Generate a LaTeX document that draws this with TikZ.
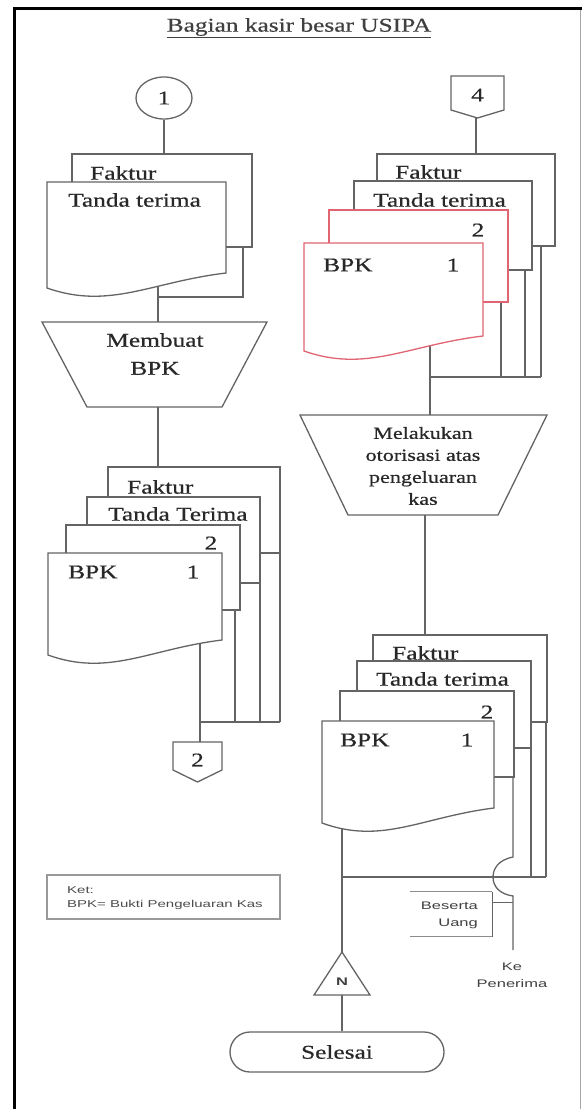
\documentclass[tikz,border=0pt]{standalone}
\usepackage{fontspec}
\setmainfont{Liberation Serif}
\newfontfamily\docfont{Liberation Serif}[FakeStretch=1.3, FakeBold=0.6]
\newfontfamily\notefont{Liberation Sans}[FakeStretch=1.5]
\usetikzlibrary{shapes.geometric}
\definecolor{ln}{RGB}{100,100,100}
\definecolor{tx}{RGB}{40,40,40}
\definecolor{rd}{RGB}{225,100,115}
\tikzset{
  flow/.style={draw=ln, line width=1.3pt},
  box/.style={draw=ln, line width=1.3pt, fill=white},
  redbox/.style={draw=rd, line width=1.3pt, fill=white},
  lbl/.style={font=\docfont\fontsize{19.5}{28}\selectfont, text=tx, inner sep=0pt},
  smalllbl/.style={font=\docfont\fontsize{17}{22}\selectfont, text=tx, inner sep=0pt, align=center},
  note/.style={font=\notefont\fontsize{10}{15}\selectfont, text=black!70, inner sep=0pt},
  notesm/.style={font=\notefont\fontsize{11}{17}\selectfont, text=black!75, inner sep=0pt},
}
\newcommand\docshape[5]{%
  \draw[#1] (#2,#3) -- (#4,#3) -- (#4,#5) .. controls ({#4-0.42*(#4-#2)},{#5+9}) and ({#4-0.65*(#4-#2)},{#5+37}) .. (#2,{#5+15}) -- cycle;}
\begin{document}
\begin{tikzpicture}[x=1pt,y=-1pt]
\useasboundingbox (0,0) rectangle (582,1109);
% frame
\draw[black!35, line width=1pt] (580.5,8) -- (580.5,1109);
\draw[black, line width=3pt] (14,1109) -- (14,8) -- (582,8);
% title
\node[lbl, text=black!75] (title) at (299,28) {\underline{Bagian kasir besar USIPA}};

% ---------- left column ----------
\node[ellipse, draw=ln, line width=1.3pt, minimum width=56pt, minimum height=42pt, inner sep=0pt, lbl] (c1) at (164,98) {1};
\coordinate (LF1) at (164,154);
\draw[flow] (c1) -- (LF1);
% lines of first stack
\coordinate (LFa) at (243,247);
\coordinate (LFb) at (243,297);
\coordinate (LJ1) at (158,297);
\coordinate (LW1) at (158,280);
\coordinate (T1top) at (158,322);
\draw[flow] (LFa) -- (LFb) -- (LJ1);
\draw[flow] (LW1) -- (T1top);
% first stack
\draw[box] (72,154) rectangle (252,247);
\docshape{box}{47}{182}{226}{273}
\node[lbl, anchor=west] (lfak1) at (90,173) {Faktur};
\node[lbl, anchor=west] (ltt1) at (68,200) {Tanda terima};
% trapezoid
\draw[box] (42,322) -- (267,322) -- (222,407) -- (87,407) -- cycle;
\node[lbl, align=center] (t1) at (155,354) {Membuat\\BPK};
\coordinate (T1bot) at (158,407);
\coordinate (LF2) at (158,467);
\draw[flow] (T1bot) -- (LF2);
% second stack lines
\coordinate (LA) at (235,610);
\coordinate (LB) at (260,583);
\coordinate (LC) at (280,553);
\coordinate (LW2) at (200,640);
\coordinate (LJ2) at (200,722);
\coordinate (C2top) at (200,742);
\draw[flow] (LA) -- (LA |- LJ2);
\draw[flow] (LB) -- (LB |- LJ2);
\draw[flow] (LC) -- (LC |- LJ2);
\draw[flow] (LW2) -- (LJ2) -- (LC |- LJ2);
\draw[flow] (LJ2) -- (C2top);
% second stack
\draw[box] (108,467) rectangle (280,553);
\node[lbl, anchor=west] (lfak2) at (127,487) {Faktur};
\draw[box] (87,497) rectangle (260,583);
\node[lbl, anchor=west] (ltt2) at (108,514) {Tanda Terima};
\draw[box] (66,525) rectangle (240,610);
\node[lbl] (l22) at (211,543) {2};
\docshape{box}{48}{553}{222}{640}
\node[lbl, anchor=west] (lbpk) at (68,572) {BPK};
\node[lbl] (l11) at (193,572) {1};
% off-page connector 2
\draw[box] (173,742) -- (222,742) -- (222,770) -- (197.5,782) -- (173,770) -- cycle;
\node[lbl] (c2) at (197.5,760) {2};

% ---------- right column ----------
\draw[box] (451,76) -- (504,76) -- (504,110) -- (477.5,118) -- (451,110) -- cycle;
\node[lbl] (c4) at (477.5,95) {4};
\coordinate (C4tip) at (476,118);
\coordinate (RF1) at (476,154);
\draw[flow] (C4tip) -- (RF1);
% first stack lines
\coordinate (RA) at (501,302);
\coordinate (RB) at (525,270);
\coordinate (RC) at (541,246);
\coordinate (RW1) at (430,340);
\coordinate (RJ1) at (430,377);
\coordinate (T2top) at (430,415);
\draw[flow] (RA) -- (RA |- RJ1);
\draw[flow] (RB) -- (RB |- RJ1);
\draw[flow] (RC) -- (RC |- RJ1);
\draw[flow] (RW1) -- (RJ1) -- (RC |- RJ1);
\draw[flow] (RJ1) -- (T2top);
% first stack
\draw[box] (377,154) rectangle (555,246);
\node[lbl, anchor=west] (rfak1) at (395,172) {Faktur};
\draw[box] (354,181) rectangle (532,270);
\node[lbl, anchor=west] (rtt1) at (373,200) {Tanda terima};
\draw[redbox] (329,210) rectangle (508,302);
\node[lbl] (r22) at (478,230) {2};
\docshape{redbox}{304}{243}{483}{336}
\node[lbl, anchor=west] (rbpk1) at (323,265) {BPK};
\node[lbl] (r11) at (453,265) {1};
% trapezoid 2
\draw[box] (300,415) -- (547,415) -- (498,515) -- (348,515) -- cycle;
\node[smalllbl] (t2) at (423,466) {Melakukan\\otorisasi atas\\pengeluaran\\kas};
\coordinate (T2bot) at (425,515);
\coordinate (RF2) at (425,635);
\draw[flow] (T2bot) -- (RF2);
% second stack lines
\coordinate (RD) at (546,722);
\coordinate (RE) at (531,748);
\coordinate (RW2) at (342,815);
\coordinate (RJ2) at (342,877);
\coordinate (Napex) at (342,952);
\draw[flow] (RD) -- (RD |- RJ2);
\draw[flow] (RE) -- (RE |- RJ2);
\draw[flow] (RW2) -- (RJ2) -- (RD |- RJ2);
\draw[flow] (RJ2) -- (Napex);
% hop line to recipient
\coordinate (RG) at (513,777);
\coordinate (KeEnd) at (513,950);
\draw[flow] (RG) -- (513,857) .. controls (498,860) and (493,869) .. (493,877)
  .. controls (493,886) and (499,894) .. (513,896) -- (KeEnd);
% annotation Beserta Uang
\coordinate (BUt) at (492,902);
\draw[black!45, line width=0.6pt, double, double distance=1pt] (410,892) -- (492,892);
\draw[black!45, line width=0.6pt, double, double distance=1pt] (410,937) -- (492,937);
\draw[flow, line width=1pt] (492,892) -- (492,937);
\draw[flow, line width=1pt] (BUt) -- (BUt -| KeEnd);
\node[notesm, align=right, anchor=east] (bu) at (478,915) {Beserta\\Uang};
\node[notesm, align=center] (ke) at (512,975) {Ke\\Penerima};
% second stack
\draw[box] (373,635) rectangle (547,722);
\node[lbl, anchor=west] (rfak2) at (392,653) {Faktur};
\draw[box] (357,661) rectangle (531,748);
\node[lbl, anchor=west] (rtt2) at (376,679) {Tanda terima};
\draw[box] (340,691) rectangle (514,777);
\node[lbl] (r2b) at (487,712) {2};
\docshape{box}{322}{721}{494}{808}
\node[lbl, anchor=west] (rbpk2) at (340,740) {BPK};
\node[lbl] (r1b) at (467,740) {1};
% triangle N
\draw[box] (Napex) -- (370,995) -- (314,995) -- cycle;
\node[notesm, font=\notefont\bfseries\fontsize{11}{13}\selectfont] (N) at (342,982) {N};
\coordinate (Nbase) at (342,995);
% terminal
\node[draw=ln, line width=1.3pt, rounded corners=20pt, minimum width=214pt, minimum height=40pt, lbl] (sel) at (337,1052) {Selesai};
\draw[flow] (Nbase) -- (Nbase |- sel.north);
% legend
\draw[black!40, line width=2pt] (47,875) rectangle (280,919);
\node[note, anchor=west] (ket) at (67,890) {Ket:};
\node[note, anchor=west] (ket2) at (67,905) {BPK= Bukti Pengeluaran Kas};
\end{tikzpicture}
\end{document}
